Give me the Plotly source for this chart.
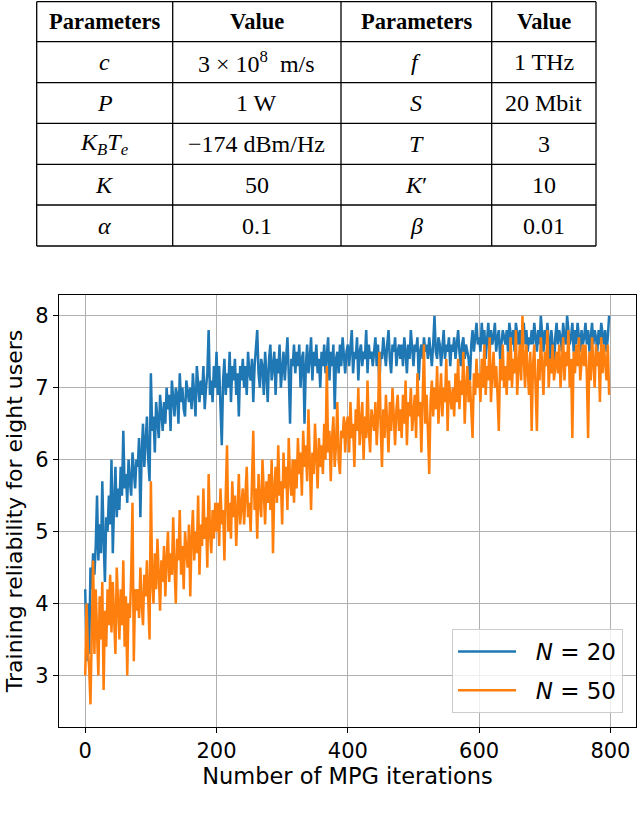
import plotly.graph_objects as go

# ---------------- data ----------------
ITERATIONS = list(range(0, 800, 2))

RELIABILITY_N20 = [
    4.2, 3.2, 4.0, 3.3, 4.5, 4.2, 4.7, 4.4, 4.8, 5.5, 4.6, 5.1, 4.7, 5.7, 4.9, 4.3, 5.2, 5.0, 5.5, 5.1,
    6.0, 4.7, 5.4, 5.9, 5.2, 5.6, 5.3, 5.9, 5.5, 6.4, 5.6, 5.8, 5.4, 6.0, 5.7, 5.5, 6.1, 5.8, 5.6, 6.0,
    5.9, 6.3, 5.2, 6.1, 6.5, 5.9, 6.2, 6.6, 6.0, 5.7, 7.2, 6.4, 6.6, 6.1, 6.8, 6.5, 6.3, 6.9, 6.6, 6.4,
    6.8, 6.5, 7.0, 6.7, 6.9, 6.4, 7.1, 6.8, 6.6, 7.0, 6.9, 6.5, 7.2, 6.8, 7.0, 6.7, 6.6, 7.1, 6.9, 6.8,
    7.0, 6.7, 7.2, 6.9, 6.6, 7.3, 7.0, 6.8, 7.1, 6.9, 7.3, 6.7, 7.0, 7.2, 7.8, 6.9, 7.1, 6.8, 7.3, 7.0,
    7.5, 6.9, 7.3, 6.7, 6.2, 7.1, 7.4, 6.9, 7.2, 7.0, 7.5, 6.8, 7.3, 7.1, 7.4, 6.9, 7.2, 6.6, 7.3, 7.1,
    7.4, 7.0, 7.3, 6.9, 7.5, 7.2, 7.1, 7.4, 6.8, 7.3, 7.5, 7.8, 7.2, 7.0, 7.4, 7.3, 6.9, 7.5, 7.2, 6.8,
    7.4, 7.6, 7.1, 7.3, 7.5, 6.9, 7.4, 7.2, 7.6, 7.0, 7.3, 7.5, 7.1, 7.4, 7.7, 7.2, 6.5, 7.4, 7.3, 7.6,
    7.2, 7.5, 7.3, 7.6, 7.0, 7.4, 7.5, 6.5, 7.3, 7.6, 7.2, 7.4, 7.7, 7.1, 7.5, 7.3, 7.6, 7.2, 7.4, 7.0,
    7.5, 7.3, 7.6, 7.2, 7.4, 7.7, 7.1, 7.5, 7.3, 7.6, 6.7, 7.4, 7.5, 7.2, 7.6, 7.3, 7.7, 7.4, 7.2, 7.5,
    7.6, 7.3, 7.5, 7.8, 7.2, 7.5, 7.4, 7.7, 7.1, 7.5, 7.6, 7.3, 7.5, 7.4, 7.8, 7.2, 7.6, 7.4, 7.5, 7.3,
    7.5, 7.7, 7.3, 7.6, 7.0, 7.5, 7.4, 7.7, 7.5, 7.3, 7.6, 7.8, 7.4, 7.2, 7.6, 7.5, 7.7, 7.3, 7.5, 7.6,
    7.4, 7.6, 7.3, 7.7, 7.5, 7.2, 7.6, 7.4, 7.8, 7.5, 7.3, 7.6, 7.5, 7.7, 7.1, 7.5, 7.6, 7.4, 7.7, 7.5,
    7.6, 7.4, 7.7, 7.5, 7.3, 7.6, 8.0, 7.5, 7.4, 7.7, 7.6, 7.3, 7.5, 7.8, 7.4, 7.6, 7.5, 7.7, 7.3, 7.6,
    7.5, 7.7, 7.4, 7.6, 7.8, 7.5, 7.3, 7.6, 7.7, 7.4, 7.6, 7.5, 7.4, 7.1, 7.6, 7.8, 7.5, 7.7, 7.9, 7.6,
    7.7, 7.5, 7.9, 7.6, 7.8, 7.4, 7.7, 7.9, 7.5, 7.8, 7.6, 7.7, 7.9, 7.5, 7.7, 7.8, 7.4, 7.6, 7.8, 7.7,
    7.6, 7.8, 7.5, 7.9, 7.7, 7.6, 7.8, 7.5, 7.9, 7.7, 7.6, 7.8, 7.4, 7.7, 7.9, 7.6, 7.8, 7.5, 7.7, 7.6,
    7.8, 7.6, 7.9, 7.7, 7.5, 7.8, 7.6, 8.0, 7.7, 7.5, 7.8, 7.6, 7.9, 7.7, 7.4, 7.8, 7.6, 7.2, 7.7, 7.9,
    7.6, 7.8, 7.7, 7.5, 7.9, 7.7, 7.6, 8.0, 7.8, 7.6, 7.7, 7.9, 7.5, 7.8, 7.6, 7.9, 7.7, 7.5, 7.8, 7.6,
    7.7, 7.9, 7.6, 7.8, 7.5, 7.7, 7.9, 7.6, 7.8, 7.7, 7.5, 7.8, 7.6, 7.9, 7.7, 7.6, 7.8, 7.5, 7.7, 8.0,
]

RELIABILITY_N50 = [
    3.0, 4.0, 3.4, 3.1, 2.6, 3.9, 4.6, 3.3, 4.2, 3.6, 3.0, 4.1, 3.5, 4.3, 2.8, 3.9, 3.4, 4.2, 3.7, 4.4,
    3.6, 4.3, 3.8, 3.3, 4.5, 3.9, 3.5, 4.2, 3.7, 4.6, 3.4, 4.1, 3.0, 4.0, 3.8, 4.4, 5.4, 3.2, 4.2, 3.9,
    4.2, 3.8, 4.5, 4.0, 3.7, 4.4, 4.1, 4.6, 3.9, 3.5, 5.7, 4.3, 4.0, 4.7, 4.2, 4.9, 4.4, 3.9, 4.6, 4.3,
    4.8, 4.1, 4.6, 5.0, 4.3, 4.7, 4.4, 5.2, 4.5, 4.0, 4.9, 4.6, 5.3, 4.4, 4.8, 4.2, 5.0, 4.7, 4.5, 5.1,
    4.1, 4.9, 5.3, 4.6, 5.0, 4.7, 5.5, 4.4, 5.1, 4.8, 5.6, 4.9, 5.2, 4.5, 5.8, 5.0, 4.7, 5.3, 4.9, 5.4,
    5.0, 5.4, 4.8, 5.6, 5.1, 5.3, 4.6, 5.5, 6.2, 5.0, 5.4, 4.9, 5.7, 5.2, 5.5, 4.8, 5.3, 5.8, 5.1, 5.4,
    5.6, 5.1, 5.5, 5.9, 5.2, 5.4, 5.0, 5.7, 6.4, 5.3, 5.6, 4.9, 5.8, 5.4, 5.2, 6.0, 5.5, 5.1, 5.7, 5.4,
    5.8, 5.3, 6.0, 4.7, 5.6, 5.9, 5.4, 6.2, 5.5, 5.7, 5.1, 6.1, 5.6, 5.9, 5.3, 6.3, 5.7, 5.5, 6.0, 5.4,
    6.0, 5.6, 6.3, 5.8, 6.1, 5.5, 6.4, 5.9, 6.2, 5.7, 6.7, 6.0, 5.3, 6.1, 5.8, 6.5, 6.0, 5.6, 6.3, 5.9,
    6.2, 5.8, 6.5, 6.0, 7.3, 6.1, 6.4, 5.7, 6.3, 6.6, 5.9, 6.2, 6.8, 6.0, 5.8, 6.4, 6.3, 6.6, 6.1, 6.5,
    6.6, 6.1, 6.8, 6.3, 6.5, 5.9, 6.7, 6.4, 7.0, 6.2, 6.5, 6.8, 6.0, 6.6, 6.3, 7.1, 6.4, 6.1, 6.7, 6.5,
    6.4, 6.8, 6.2, 6.6, 7.5, 6.5, 5.9, 6.7, 6.3, 6.9, 6.5, 6.1, 6.8, 6.4, 7.0, 6.6, 6.2, 6.7, 6.9, 6.4,
    6.7, 6.3, 6.9, 6.5, 7.1, 6.2, 6.8, 6.6, 7.0, 6.4, 6.7, 6.9, 6.3, 7.2, 6.6, 6.8, 6.1, 6.9, 7.6, 6.5,
    6.9, 6.4, 5.8, 6.8, 7.1, 6.6, 7.0, 6.7, 7.3, 6.5, 6.9, 7.2, 6.6, 7.0, 6.8, 7.4, 6.4, 7.1, 6.9, 6.7,
    7.0, 6.6, 7.2, 6.8, 7.4, 6.7, 7.1, 6.9, 7.5, 6.5, 7.0, 7.3, 6.8, 7.1, 6.7, 6.3, 7.2, 6.9, 7.4, 7.0,
    7.2, 6.8, 7.4, 7.0, 7.6, 6.9, 7.3, 7.1, 7.7, 6.8, 7.2, 7.5, 7.0, 7.3, 6.9, 6.4, 7.4, 7.1, 7.6, 7.0,
    7.3, 6.9, 7.5, 7.1, 7.7, 7.0, 7.4, 7.2, 7.8, 6.9, 7.3, 7.6, 7.1, 8.0, 7.4, 7.0, 7.6, 7.2, 6.9, 7.5,
    6.4, 7.3, 7.6, 7.0, 6.4, 7.4, 7.1, 7.7, 7.2, 6.9, 7.5, 7.3, 7.8, 7.0, 7.4, 7.2, 7.6, 7.1, 7.3, 7.5,
    7.2, 7.6, 7.0, 7.4, 7.7, 7.1, 7.5, 7.3, 7.8, 7.0, 7.4, 6.3, 7.5, 7.2, 7.6, 7.3, 7.7, 7.1, 7.4, 7.6,
    7.3, 7.6, 7.2, 6.3, 7.5, 7.1, 7.7, 7.4, 7.0, 7.6, 7.3, 7.5, 6.8, 7.7, 7.2, 7.6, 7.4, 7.1, 7.6, 6.9,
]

SERIES_NAMES = ["<i>N</i> = 20", "<i>N</i> = 50"]
SERIES_COLORS = ["#1f77b4", "#ff7f0e"]

X_TICKS = [0, 200, 400, 600, 800]
Y_TICKS = [3, 4, 5, 6, 7, 8]

TABLE_HEADER = ["Parameters", "Value", "Parameters", "Value"]
PARAM_LEFT = ["<i>c</i>", "<i>P</i>", "<i>K</i><sub><i>B</i></sub><i>T</i><sub><i>e</i></sub>", "<i>K</i>", "<i>α</i>"]
VALUE_LEFT = ["3 × 10<sup>8</sup>  m/s", "1 W", "−174 dBm/Hz", "50", "0.1"]
PARAM_RIGHT = ["<i>f</i>", "<i>S</i>", "<i>T</i>", "<i>K</i>′", "<i>β</i>"]
VALUE_RIGHT = ["1 THz", "20 Mbit", "3", "10", "0.01"]

# ---------------- layout geometry (pixels) ----------------
W, H = 640, 817
ML, MR, MT, MB = 59, 4, 295, 90
PW = W - ML - MR
PH = H - MT - MB


def fx(px):
    return (px - ML) / PW


def fy(py):
    return (H - MB - py) / PH


COL_EDGES = [36.7, 172.7, 341.0, 491.7, 596.0]
ROW_EDGES = [1.7, 41.7, 82.7, 123.3, 164.3, 205.0, 246.0]

fig = go.Figure()
for k, (name, vals, col) in enumerate(zip(SERIES_NAMES, [RELIABILITY_N20, RELIABILITY_N50], SERIES_COLORS)):
    fig.add_trace(go.Scatter(x=ITERATIONS, y=vals, mode="lines", name="\u00a0\u00a0" + name,
                             legendgroup="g%d" % k,
                             line=dict(color=col, width=2.5)))

shapes = []
for cx in COL_EDGES:
    shapes.append(dict(type="line", xref="paper", yref="paper",
                       x0=fx(cx), x1=fx(cx), y0=fy(ROW_EDGES[0]), y1=fy(ROW_EDGES[-1]),
                       line=dict(color="black", width=1.3)))
for ry in ROW_EDGES:
    shapes.append(dict(type="line", xref="paper", yref="paper",
                       x0=fx(COL_EDGES[0]), x1=fx(COL_EDGES[-1]), y0=fy(ry), y1=fy(ry),
                       line=dict(color="black", width=1.3)))

annotations = []
col_centers = [(COL_EDGES[i] + COL_EDGES[i + 1]) / 2 for i in range(4)]
row_centers = [(ROW_EDGES[i] + ROW_EDGES[i + 1]) / 2 for i in range(6)]
serif = "Liberation Serif"
for c, txt in enumerate(TABLE_HEADER):
    annotations.append(dict(xref="paper", yref="paper", x=fx(col_centers[c]), y=fy(row_centers[0]),
                            text="<b>" + txt + "</b>", showarrow=False,
                            font=dict(family=serif, size=22.5, color="black"),
                            xanchor="center", yanchor="middle"))
columns = [PARAM_LEFT, VALUE_LEFT, PARAM_RIGHT, VALUE_RIGHT]
for c, colvals in enumerate(columns):
    for r, txt in enumerate(colvals):
        annotations.append(dict(xref="paper", yref="paper", x=fx(col_centers[c]), y=fy(row_centers[r + 1]),
                                text=txt, showarrow=False,
                                font=dict(family=serif, size=24, color="black"),
                                xanchor="center", yanchor="middle"))

sans = "DejaVu Sans"
axis_common = dict(showgrid=True, gridcolor="#b0b0b0", gridwidth=1, zeroline=False,
                   showline=True, linecolor="black", linewidth=1.2, mirror=True,
                   ticks="outside", ticklen=5, tickwidth=1.2, tickcolor="black",
                   tickfont=dict(family=sans, size=21, color="black"))

fig.update_layout(
    width=W, height=H,
    margin=dict(l=ML, r=MR, t=MT, b=MB, pad=0),
    paper_bgcolor="white", plot_bgcolor="white",
    shapes=shapes, annotations=annotations,
    xaxis=dict(range=[-39.95, 838.95], tickvals=X_TICKS,
               title=dict(text="Number of MPG iterations", font=dict(family=sans, size=22.5, color="black"), standoff=3),
               **axis_common),
    yaxis=dict(range=[2.285, 8.288], tickvals=Y_TICKS,
               title=dict(text="Training reliability for eight users", font=dict(family=sans, size=22, color="black"), standoff=6),
               **axis_common),
    legend=dict(x=fx(623), y=fy(713), xanchor="right", yanchor="bottom",
                bgcolor="rgba(255,255,255,0.8)", bordercolor="#cccccc", borderwidth=1,
                font=dict(family=sans, size=23, color="black"), itemwidth=58,
                tracegroupgap=6),
    showlegend=True,
)

fig.write_html("out.html", config={"displayModeBar": False},
               post_script="document.body.style.margin='0';document.body.style.padding='0';")
